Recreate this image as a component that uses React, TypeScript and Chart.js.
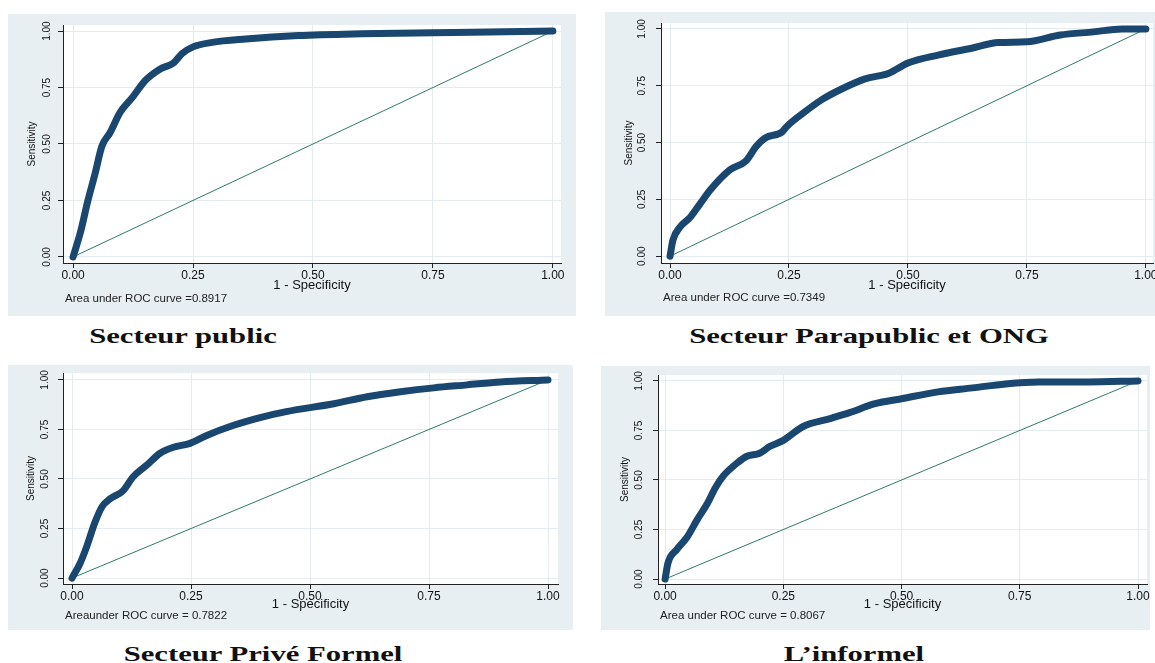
import React, { useEffect, useRef } from "react";
import { Chart, registerables } from "chart.js";

Chart.register(...registerables);

// ---------- data ----------
const tickValues = [0, 0.25, 0.5, 0.75, 1];

const publicFpr = [0, 0.015, 0.031, 0.046, 0.06, 0.077, 0.098, 0.125, 0.15, 0.18, 0.21, 0.227, 0.25, 0.29, 0.36, 0.47, 0.6, 0.75, 0.9, 1];
const publicTpr = [0, 0.106, 0.25, 0.37, 0.49, 0.55, 0.64, 0.71, 0.78, 0.83, 0.86, 0.9, 0.93, 0.95, 0.965, 0.98, 0.988, 0.993, 0.997, 1];

const paraFpr = [0, 0.006, 0.021, 0.042, 0.063, 0.084, 0.126, 0.16, 0.18, 0.2, 0.235, 0.245, 0.28, 0.32, 0.365, 0.41, 0.46, 0.5, 0.563, 0.634, 0.69, 0.75, 0.82, 0.89, 0.95, 1];
const paraTpr = [0, 0.07, 0.128, 0.17, 0.23, 0.29, 0.38, 0.42, 0.48, 0.52, 0.546, 0.57, 0.63, 0.69, 0.74, 0.78, 0.805, 0.85, 0.885, 0.915, 0.94, 0.943, 0.973, 0.987, 1, 1];

const priveFpr = [0, 0.017, 0.031, 0.048, 0.063, 0.08, 0.107, 0.128, 0.157, 0.185, 0.213, 0.248, 0.283, 0.338, 0.395, 0.45, 0.55, 0.62, 0.69, 0.76, 0.83, 0.9, 1];
const priveTpr = [0, 0.075, 0.16, 0.28, 0.36, 0.4, 0.44, 0.51, 0.57, 0.63, 0.66, 0.68, 0.72, 0.77, 0.81, 0.84, 0.88, 0.915, 0.94, 0.96, 0.975, 0.99, 1];

const infFpr = [0, 0.006, 0.025, 0.046, 0.068, 0.089, 0.106, 0.123, 0.152, 0.173, 0.2, 0.222, 0.25, 0.292, 0.349, 0.39, 0.444, 0.5, 0.577, 0.65, 0.72, 0.79, 0.894, 1];
const infTpr = [0, 0.08, 0.15, 0.21, 0.3, 0.38, 0.46, 0.52, 0.585, 0.62, 0.635, 0.67, 0.7, 0.77, 0.81, 0.84, 0.885, 0.91, 0.945, 0.965, 0.985, 0.995, 0.995, 1];

const panelTitles = ["Secteur public", "Secteur Parapublic et ONG", "Secteur Privé Formel", "L’informel"];
const aucNotes = [
  "Area under ROC curve =0.8917",
  "Area under ROC curve =0.7349",
  "Areaunder ROC curve = 0.7822",
  "Area under ROC curve = 0.8067",
];
const xAxisTitle = "1 - Specificity";
const yAxisTitle = "Sensitivity";

const seriesFpr = [publicFpr, paraFpr, priveFpr, infFpr];
const seriesTpr = [publicTpr, paraTpr, priveTpr, infTpr];

// ---------- styling / layout ----------
const BG = "#e8eff2";
const GRID = "#e4ecef";
const AXIS = "#222222";
const CURVE = "#1a476f";
const DIAG = "#2e7b6b";
const SANS = "'Liberation Sans', Arial, sans-serif";

type Layout = {
  box: [number, number, number, number];
  area: [number, number, number, number];
  xr: [number, number];
  yr: [number, number];
  yTickPad: number;
  yTitlePad: number;
  xTitlePad: number;
  note: [number, number];
  titlePos: [number, number];
};

const layouts: Layout[] = [
  { box: [8, 14, 568, 302], area: [63, 25, 561, 263], xr: [-0.021, 1.017], yr: [-0.027, 1.027], yTickPad: 1, yTitlePad: 18, xTitlePad: 23, note: [65, 299], titlePos: [183, 326] },
  { box: [605, 12, 550, 304], area: [661, 23, 1153, 263], xr: [-0.019, 1.015], yr: [-0.03, 1.026], yTickPad: 4, yTitlePad: 18, xTitlePad: 23, note: [663, 298], titlePos: [869, 326] },
  { box: [8, 365, 565, 265], area: [63, 373, 558, 584], xr: [-0.019, 1.021], yr: [-0.03, 1.035], yTickPad: 3, yTitlePad: 17, xTitlePad: 18, note: [65, 616], titlePos: [263, 644] },
  { box: [601, 366, 549, 264], area: [658, 375, 1147, 584], xr: [-0.015, 1.019], yr: [-0.025, 1.03], yTickPad: 4, yTitlePad: 18, xTitlePad: 18, note: [660, 616], titlePos: [854, 644] },
];

const panelPlugin = {
  id: "panelDecor",
  beforeDraw(chart: any) {
    const { ctx, chartArea: a, width, height } = chart;
    ctx.save();
    ctx.fillStyle = BG;
    ctx.fillRect(0, 0, width, height);
    ctx.fillStyle = "#ffffff";
    ctx.fillRect(a.left, a.top, a.right - a.left, a.bottom - a.top);
    ctx.restore();
  },
  afterDraw(chart: any, _args: any, opts: any) {
    const { ctx } = chart;
    ctx.save();
    ctx.fillStyle = "#222";
    ctx.font = `10px ${SANS}`;
    ctx.textBaseline = "middle";
    ctx.textAlign = "left";
    ctx.translate(opts.x, opts.y);
    ctx.scale(1.15, 1);
    ctx.fillText(opts.text, 0, 0);
    ctx.restore();
  },
};

function RocPanel({ idx }: { idx: number }) {
  const ref = useRef<HTMLCanvasElement | null>(null);
  const lay = layouts[idx];
  const [bl, bt, bw, bh] = lay.box;
  const [L, T, R, B] = lay.area;

  useEffect(() => {
    if (!ref.current) return;
    const fpr = seriesFpr[idx];
    const tpr = seriesTpr[idx];
    const rocData = fpr.map((x, i) => ({ x, y: tpr[i] }));
    const diagData = [
      { x: 0, y: 0 },
      { x: 1, y: 1 },
    ];
    const setTicks = (s: any) => {
      s.ticks = tickValues.map((v) => ({ value: v }));
    };
    const chart = new Chart(ref.current, {
      type: "line",
      data: {
        datasets: [
          {
            data: rocData,
            borderColor: CURVE,
            backgroundColor: CURVE,
            borderWidth: 7,
            borderCapStyle: "round",
            borderJoinStyle: "round",
            pointRadius: 0,
            cubicInterpolationMode: "monotone",
            clip: false as any,
            order: 0,
          },
          {
            data: diagData,
            borderColor: DIAG,
            borderWidth: 1,
            pointRadius: 0,
            tension: 0,
            order: 1,
          },
        ],
      },
      options: {
        responsive: false,
        animation: false,
        events: [],
        layout: {
          padding: { left: 0, top: T - bt, right: bl + bw - R, bottom: 0 },
        },
        plugins: {
          legend: { display: false },
          tooltip: { enabled: false },
          panelDecor: { text: aucNotes[idx], x: lay.note[0] - bl, y: lay.note[1] - bt },
        } as any,
        scales: {
          x: {
            type: "linear",
            min: lay.xr[0],
            max: lay.xr[1],
            afterBuildTicks: setTicks,
            afterFit: (s: any) => {
              s.height = bt + bh - B;
              s.paddingLeft = 0;
              s.paddingRight = 0;
            },
            grid: { color: GRID, lineWidth: 1, drawTicks: true, tickLength: 5, tickColor: AXIS },
            border: { display: true, color: AXIS, width: 1 },
            ticks: {
              padding: 0,
              color: "#111",
              autoSkip: false,
              minRotation: 0,
              maxRotation: 0,
              font: { family: SANS, size: 12 },
              callback: (v: any) => Number(v).toFixed(2),
            },
            title: {
              display: true,
              text: xAxisTitle,
              color: "#111",
              font: { family: SANS, size: 13 },
              padding: { top: 0, bottom: lay.xTitlePad },
            },
          },
          y: {
            type: "linear",
            min: lay.yr[0],
            max: lay.yr[1],
            afterBuildTicks: setTicks,
            afterFit: (s: any) => {
              s.width = L - bl;
              s.paddingTop = 0;
              s.paddingBottom = 0;
            },
            grid: { color: GRID, lineWidth: 1, drawTicks: true, tickLength: 5, tickColor: AXIS },
            border: { display: true, color: AXIS, width: 1 },
            ticks: {
              padding: lay.yTickPad,
              color: "#111",
              autoSkip: false,
              minRotation: 90,
              maxRotation: 90,
              crossAlign: "center",
              font: { family: SANS, size: 10 },
              callback: (v: any) => Number(v).toFixed(2),
            },
            title: {
              display: true,
              text: yAxisTitle,
              color: "#111",
              font: { family: SANS, size: 10 },
              padding: { top: lay.yTitlePad, bottom: 0 },
            },
          },
        },
      },
      plugins: [panelPlugin],
    } as any);
    return () => chart.destroy();
  }, [idx]);

  return (
    <>
      <canvas
        ref={ref}
        width={bw}
        height={bh}
        style={{ position: "absolute", left: bl, top: bt, width: bw, height: bh }}
      />
      <div
        style={{
          position: "absolute",
          left: lay.titlePos[0],
          top: lay.titlePos[1],
          transform: "translateX(-50%) scaleX(1.46)",
          fontFamily: "'Liberation Serif', 'Times New Roman', serif",
          fontWeight: "bold",
          fontSize: 21,
          lineHeight: "21px",
          whiteSpace: "nowrap",
          color: "#111",
        }}
      >
        {panelTitles[idx]}
      </div>
    </>
  );
}

export default function App() {
  return (
    <div
      style={{
        position: "fixed",
        left: 0,
        top: 0,
        width: 1155,
        height: 663,
        overflow: "hidden",
        background: "#ffffff",
      }}
    >
      {[0, 1, 2, 3].map((i) => (
        <RocPanel key={i} idx={i} />
      ))}
    </div>
  );
}
